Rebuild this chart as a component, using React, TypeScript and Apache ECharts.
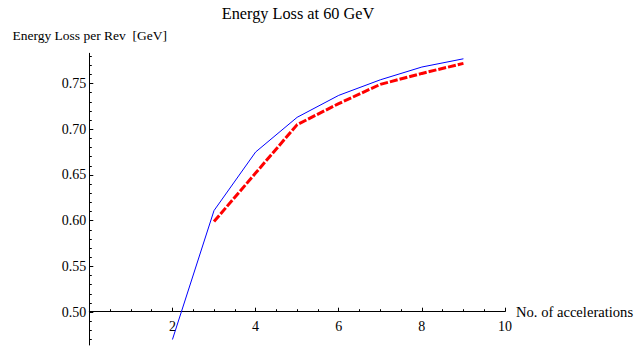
import React, { useEffect, useRef } from "react";
import * as echarts from "echarts";

// Number of accelerations on the horizontal axis
const accelBlue = [2, 3, 4, 5, 6, 7, 8, 9];
const lossBlue = [0.47, 0.611, 0.675, 0.713, 0.737, 0.754, 0.768, 0.777];

const accelRed = [3, 4, 5, 6, 7, 8, 9];
const lossRed = [0.599, 0.652, 0.705, 0.728, 0.749, 0.761, 0.772];

const yMajorTicks = [0.5, 0.55, 0.6, 0.65, 0.7, 0.75];
const xTickLabels = ["2", "4", "6", "8", "10"];

const TITLE = "Energy Loss at 60 GeV";
const Y_NAME = "Energy Loss per Rev  [GeV]";
const X_NAME = "No. of accelerations";

const FONT = "'Liberation Serif', 'DejaVu Serif', serif";

// minor y ticks every 0.01 between the axis ends, skipping the major ones
const yMinorTicks: number[] = [];
for (let i = 47; i <= 78; i++) {
  if (i % 5 !== 0) yMinorTicks.push(i / 100);
}

export default function App() {
  const ref = useRef<HTMLDivElement>(null);

  useEffect(() => {
    if (!ref.current) return;
    const chart = echarts.init(ref.current, null, { renderer: "svg" });

    const axisColor = "#000";
    const gridLeft = 89.3;
    const gridTop = 53.3;
    const gridWidth = 415.7;
    const gridHeight = 291.7;

    chart.setOption({
      animation: false,
      backgroundColor: "#fff",
      grid: {
        left: gridLeft,
        top: gridTop,
        width: gridWidth,
        height: gridHeight,
        containLabel: false,
      },
      graphic: [
        {
          type: "text",
          x: 298,
          y: 13,
          style: {
            text: TITLE,
            font: `16.3px ${FONT}`,
            fill: "#000",
            align: "center",
            verticalAlign: "middle",
          },
        },
        {
          type: "text",
          x: 12.5,
          y: 35,
          style: {
            text: Y_NAME,
            font: `13.5px ${FONT}`,
            fill: "#000",
            align: "left",
            verticalAlign: "middle",
          },
        },
      ],
      xAxis: {
        type: "value",
        min: 0,
        max: 10,
        interval: 2,
        offset: -33.3,
        name: X_NAME,
        nameLocation: "end",
        nameGap: 11,
        nameTextStyle: {
          fontFamily: FONT,
          fontSize: 14.6,
          color: "#000",
          verticalAlign: "middle",
          padding: [0, 0, 4, 0],
        },
        axisLine: { show: true, onZero: false, lineStyle: { color: axisColor, width: 1 } },
        axisTick: { show: true, inside: true, length: 4, lineStyle: { color: axisColor } },
        minorTick: { show: true, splitNumber: 4, length: 2.5, lineStyle: { color: axisColor } },
        splitLine: { show: false },
        minorSplitLine: { show: false },
        axisLabel: {
          margin: 8,
          fontFamily: FONT,
          fontSize: 14,
          color: "#000",
          formatter: (v: number) => {
            const s = String(v);
            return xTickLabels.includes(s) ? s : "";
          },
        },
      },
      yAxis: [
        {
          type: "value",
          min: 0.464,
          max: 0.783,
          position: "left",
          axisLine: { show: true, onZero: false, lineStyle: { color: axisColor, width: 1 } },
          axisTick: {
            show: true,
            inside: true,
            length: 4,
            customValues: yMajorTicks,
            lineStyle: { color: axisColor },
          },
          axisLabel: {
            customValues: yMajorTicks,
            margin: 3,
            fontFamily: FONT,
            fontSize: 14,
            color: "#000",
            formatter: (v: number) => v.toFixed(2),
          },
          splitLine: { show: false },
        },
        {
          type: "value",
          min: 0.464,
          max: 0.783,
          position: "left",
          axisLine: { show: false },
          axisTick: {
            show: true,
            inside: true,
            length: 2.5,
            customValues: yMinorTicks,
            lineStyle: { color: axisColor },
          },
          axisLabel: { show: false },
          splitLine: { show: false },
        },
      ],
      series: [
        {
          type: "line",
          data: accelBlue.map((x, i) => [x, lossBlue[i]]),
          symbol: "none",
          lineStyle: { color: "#0000ff", width: 1 },
          clip: false,
        },
        {
          type: "line",
          data: accelRed.map((x, i) => [x, lossRed[i]]),
          symbol: "none",
          lineStyle: { color: "#ff0000", width: 3, type: [8, 2] },
          clip: false,
        },
      ],
    });

    return () => chart.dispose();
  }, []);

  return (
    <div
      ref={ref}
      style={{ position: "absolute", left: 0, top: 0, width: 640, height: 350 }}
    />
  );
}
